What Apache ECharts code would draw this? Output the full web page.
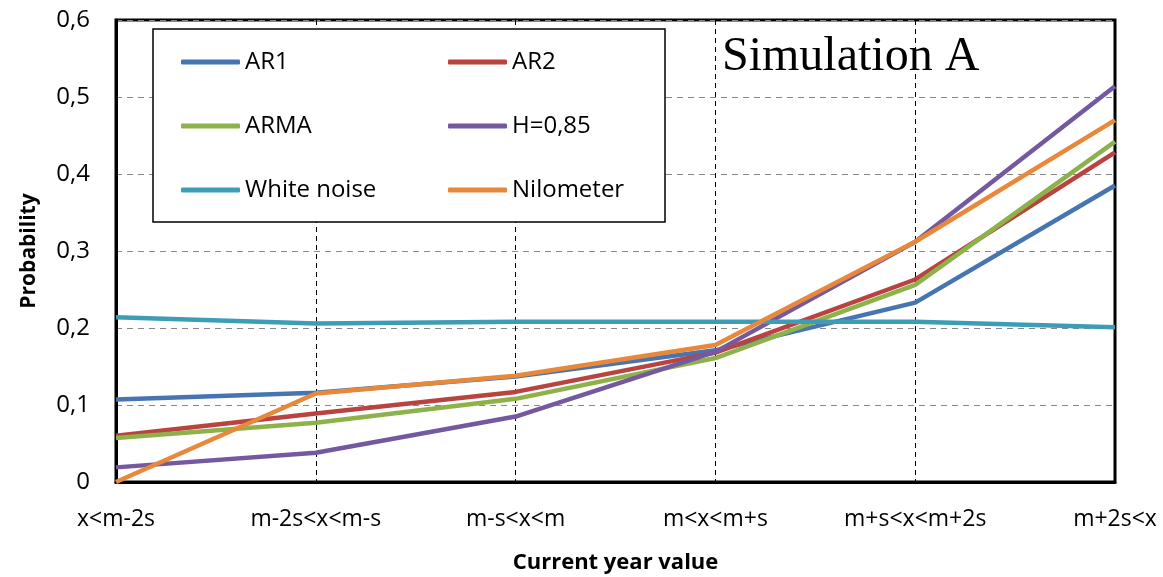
<!DOCTYPE html>
<html>
<head>
<meta charset="utf-8">
<script src="https://cdn.jsdelivr.net/npm/echarts@6/dist/echarts.min.js"></script>
<style>
  html, body { margin: 0; padding: 0; background: #fff; }
  #chart { width: 1163px; height: 577px; }
</style>
</head>
<body>
<div id="chart"></div>
<script>
const categories = ['x<m-2s', 'm-2s<x<m-s', 'm-s<x<m', 'm<x<m+s', 'm+s<x<m+2s', 'm+2s<x'];
const ar1 = [0.107, 0.116, 0.137, 0.171, 0.233, 0.385];
const ar2 = [0.060, 0.089, 0.117, 0.168, 0.263, 0.428];
const arma = [0.057, 0.077, 0.108, 0.161, 0.256, 0.442];
const h085 = [0.019, 0.038, 0.085, 0.169, 0.312, 0.514];
const whiteNoise = [0.214, 0.206, 0.208, 0.208, 0.208, 0.201];
const nilometer = [0.000, 0.115, 0.138, 0.178, 0.312, 0.470];
const yTicks = [0, 0.1, 0.2, 0.3, 0.4, 0.5, 0.6];

const chart = echarts.init(document.getElementById('chart'));
const font = '"Open Sans", sans-serif';

function line(name, data, color) {
  return {
    name: name,
    type: 'line',
    data: data,
    symbol: 'none',
    lineStyle: { width: 4.5, color: color },
    itemStyle: { color: color },
    z: 3
  };
}

chart.setOption({
  animation: false,
  grid: {
    left: 116, right: 48, top: 20, bottom: 95,
    outerBoundsMode: 'none',
    containLabel: false,
    show: true, borderColor: '#000', borderWidth: 3
  },
  graphic: [
    {
      type: 'rect',
      shape: { x: 153, y: 29, width: 512, height: 193 },
      style: { fill: '#fff', stroke: '#000', lineWidth: 1.5 },
      z: 10
    },
    {
      type: 'text',
      left: 722, top: 33,
      style: { text: 'Simulation A', font: '48px "Liberation Serif", serif', fill: '#000' },
      z: 12
    }
  ],
  legend: [
    {
      data: ['AR1', 'ARMA', 'White noise'],
      orient: 'vertical',
      left: 176, top: 45,
      itemWidth: 59, itemHeight: 5, itemGap: 40,
      icon: 'roundRect',
      textStyle: { fontFamily: font, fontSize: 24, color: '#000' },
      z: 11
    },
    {
      data: ['AR2', 'H=0,85', 'Nilometer'],
      orient: 'vertical',
      left: 443, top: 45,
      itemWidth: 59, itemHeight: 5, itemGap: 40,
      icon: 'roundRect',
      textStyle: { fontFamily: font, fontSize: 24, color: '#000' },
      z: 11
    }
  ],
  xAxis: {
    type: 'category',
    data: categories,
    boundaryGap: false,
    name: 'Current year value',
    nameLocation: 'middle',
    nameGap: 70,
    nameTextStyle: { fontFamily: font, fontSize: 22, fontWeight: 'bold', color: '#000' },
    axisLine: { lineStyle: { color: '#000', width: 3 } },
    axisTick: { show: false },
    axisLabel: { fontFamily: font, fontSize: 23, color: '#000', margin: 26, interval: 0 },
    splitLine: { show: true, lineStyle: { color: '#000', type: [5, 4], width: 1 } }
  },
  yAxis: {
    type: 'value',
    min: 0, max: 0.6, interval: 0.1,
    name: 'Probability',
    nameLocation: 'middle',
    nameGap: 76,
    nameTextStyle: { fontFamily: font, fontSize: 21, fontWeight: 'bold', color: '#000' },
    axisLine: { show: true, lineStyle: { color: '#000', width: 3 } },
    axisTick: { show: false },
    axisLabel: {
      fontFamily: font, fontSize: 24, color: '#000', margin: 26,
      formatter: v => yTicks.indexOf(Math.round(v * 10) / 10) >= 0
        ? (v === 0 ? '0' : v.toFixed(1).replace('.', ',')) : ''
    },
    splitLine: { show: true, lineStyle: { color: '#888', type: [6, 5], width: 1 } }
  },
  series: [
    line('AR1', ar1, '#4675b2'),
    line('AR2', ar2, '#b8433f'),
    line('ARMA', arma, '#8db249'),
    line('H=0,85', h085, '#7559a0'),
    line('White noise', whiteNoise, '#3d9db6'),
    line('Nilometer', nilometer, '#e8883a')
  ]
});
</script>
</body>
</html>
